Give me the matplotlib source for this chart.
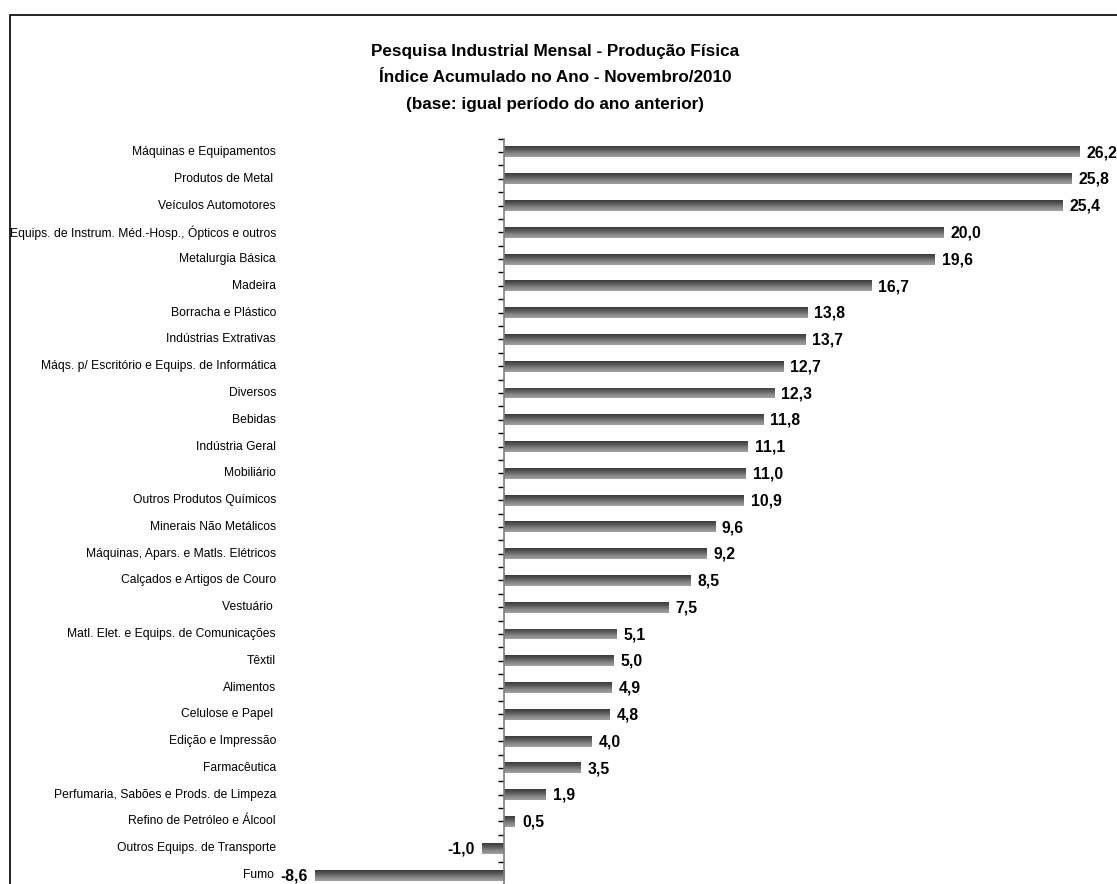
import numpy as np
import matplotlib.pyplot as plt
import matplotlib.transforms as mtransforms
from matplotlib.patches import Rectangle
from matplotlib.colors import LinearSegmentedColormap

plt.rcParams['font.family'] = ['Liberation Sans', 'DejaVu Sans']

# ==================== data ====================
categories = [
    "Máquinas e Equipamentos",
    "Produtos de Metal ",
    "Veículos Automotores",
    "Equips. de Instrum. Méd.-Hosp., Ópticos e outros",
    "Metalurgia Básica",
    "Madeira",
    "Borracha e Plástico",
    "Indústrias Extrativas",
    "Máqs. p/ Escritório e Equips. de Informática",
    "Diversos",
    "Bebidas",
    "Indústria Geral",
    "Mobiliário",
    "Outros Produtos Químicos",
    "Minerais Não Metálicos",
    "Máquinas, Apars. e Matls. Elétricos",
    "Calçados e Artigos de Couro",
    "Vestuário ",
    "Matl. Elet. e Equips. de Comunicações",
    "Têxtil",
    "Alimentos",
    "Celulose e Papel ",
    "Edição e Impressão",
    "Farmacêutica",
    "Perfumaria, Sabões e Prods. de Limpeza",
    "Refino de Petróleo e Álcool",
    "Outros Equips. de Transporte",
    "Fumo",
]
values = [26.2, 25.8, 25.4, 20.0, 19.6, 16.7, 13.8, 13.7, 12.7, 12.3, 11.8,
          11.1, 11.0, 10.9, 9.6, 9.2, 8.5, 7.5, 5.1, 5.0, 4.9, 4.8, 4.0, 3.5,
          1.9, 0.5, -1.0, -8.6]

title_lines = ["Pesquisa Industrial Mensal - Produção Física",
               "Índice Acumulado no Ano - Novembro/2010",
               "(base: igual período do ano anterior)"]

# ==================== figure ====================
W, H = 1117, 884
fig = plt.figure(figsize=(W / 100, H / 100), dpi=100)

# axes placed in pixel terms: zero line at x=504, 21.98 px per unit
px_unit = 21.98
x0_px = 504
xmin, xmax = -9.0, 27.5
left_px = x0_px + xmin * px_unit
right_px = x0_px + xmax * px_unit
top_px, bot_px = 138.6, 888.4
ax = fig.add_axes([left_px / W, (H - bot_px) / H,
                   (right_px - left_px) / W, (bot_px - top_px) / H])
n = len(values)
y = np.arange(n)

# gradient bars (dark top -> lighter bottom)
bars = ax.barh(y, values, height=0.41, color="none", edgecolor="none")
grad = np.linspace(0, 1, 64).reshape(-1, 1)
cm = LinearSegmentedColormap.from_list("bar", ["#3a3a3a", "#5a5a5a", "#858585", "#a2a2a2"])
for b in bars:
    x_a = min(b.get_x(), b.get_x() + b.get_width())
    x_b = max(b.get_x(), b.get_x() + b.get_width())
    y_a = b.get_y()
    y_b = b.get_y() + b.get_height()
    im = ax.imshow(grad, cmap=cm, aspect="auto", interpolation="bicubic",
                   extent=[x_a, x_b, y_b, y_a], zorder=2)
    im.set_clip_path(b)
ax.set_xlim(xmin, xmax)
ax.set_ylim(n - 0.5, -0.5)

# value labels
for yi, v in zip(y, values):
    txt = f"{v:.1f}".replace(".", ",")
    off = 5 if v >= 0 else -5
    ax.annotate(txt, (v, yi), xytext=(off, -0.5), textcoords="offset points",
                ha="left" if v >= 0 else "right", va="center",
                fontsize=11.3, fontweight="bold")

# category labels, right aligned at fixed figure position
trans = mtransforms.blended_transform_factory(fig.transFigure, ax.transData)
for yi, lab in zip(y, categories):
    xl = 276 / W if lab != "Fumo" else 274 / W
    ax.text(xl, yi, lab, transform=trans, ha="right", va="center", fontsize=8.7)

# axis styling
for s in ["top", "right", "bottom"]:
    ax.spines[s].set_visible(False)
ax.spines["left"].set_position(("data", 0))
ax.spines["left"].set_color("#7f7f7f")
ax.spines["left"].set_linewidth(1.2)
ax.set_xticks([])
ax.set_yticks(np.arange(-0.5, n, 0.5))
ax.set_yticklabels([])
ax.tick_params(axis="y", length=4, width=1.0, color="#000000", direction="out")

# title (three bold lines)
for line, base in zip(title_lines, [56, 82.5, 109]):
    fig.text(555 / W, 1 - base / H, line, ha="center", va="baseline",
             fontsize=12.3, fontweight="bold")

# outer frame (cropped at right and bottom)
fig.patches.append(Rectangle((10 / W, -0.1), 1.2, 1 - 15 / H + 0.1,
                             transform=fig.transFigure, fill=False,
                             edgecolor="black", linewidth=1.2))

fig.savefig("out.png", dpi=100)
